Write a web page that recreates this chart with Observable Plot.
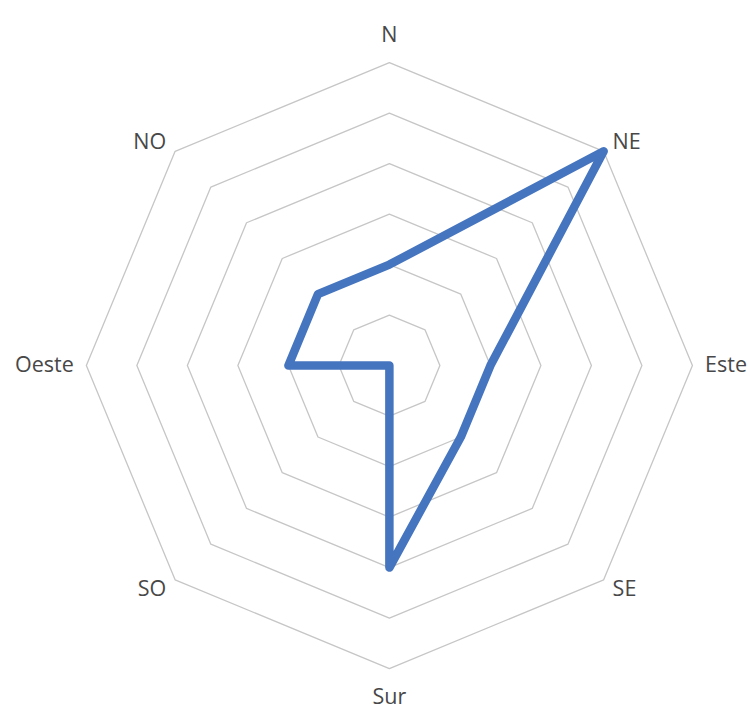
<!DOCTYPE html>
<html>
<head>
<meta charset="utf-8">
<script src="https://cdn.jsdelivr.net/npm/d3@7"></script>
<script src="https://cdn.jsdelivr.net/npm/@observablehq/plot@0.6"></script>
<style>
  html, body { margin: 0; padding: 0; background: #ffffff; overflow: hidden; }
  #chart svg { display: block; }
</style>
</head>
<body>
<div id="chart"></div>
<script>
// Data
const directions = ["N", "NE", "Este", "SE", "Sur", "SO", "Oeste", "NO"];
const values = [2, 6, 2, 2, 4, 0, 2, 2];
const ringLevels = [1, 2, 3, 4, 5, 6];

const step = (2 * Math.PI) / directions.length;
const polar = (r, i) => ({ x: r * Math.sin(i * step), y: r * Math.cos(i * step) });

const rings = ringLevels.flatMap(level =>
  directions.map((d, i) => ({ level, ...polar(level, i) }))
);
const series = directions.map((d, i) => ({ dir: d, value: values[i], ...polar(values[i], i) }));
const labelR = 6.25;
const labels = directions.map((d, i) => ({ dir: d, s: Math.sin(i * step), c: Math.cos(i * step), ...polar(labelR, i) }));

const font = { fontFamily: "'Open Sans', sans-serif", fontSize: 21.5, fill: "#484848" };

const chart = Plot.plot({
  width: 750,
  height: 710,
  margin: 0,
  x: { domain: [-7.70, 7.15], axis: null },
  y: { domain: [-6.83, 7.23], axis: null },
  marks: [
    Plot.line(rings, { x: "x", y: "y", z: "level", curve: "linear-closed", stroke: "#c6c6c6", strokeWidth: 1.3 }),
    Plot.line(series, { x: "x", y: "y", curve: "linear-closed", stroke: "#4675bf", strokeWidth: 8.5, strokeLinejoin: "round" }),
    Plot.text(labels, { filter: d => d.s > 0.01, x: "x", y: "y", text: "dir", textAnchor: "start", ...font }),
    Plot.text(labels, { filter: d => d.s < -0.01, x: "x", y: "y", text: "dir", textAnchor: "end", ...font }),
    Plot.text(labels, { filter: d => Math.abs(d.s) <= 0.01 && d.c > 0, x: "x", y: "y", text: "dir", textAnchor: "middle", lineAnchor: "bottom", dy: -8, ...font }),
    Plot.text(labels, { filter: d => Math.abs(d.s) <= 0.01 && d.c < 0, x: "x", y: "y", text: "dir", textAnchor: "middle", lineAnchor: "top", dy: 8, ...font })
  ]
});
document.getElementById("chart").appendChild(chart);
</script>
</body>
</html>
